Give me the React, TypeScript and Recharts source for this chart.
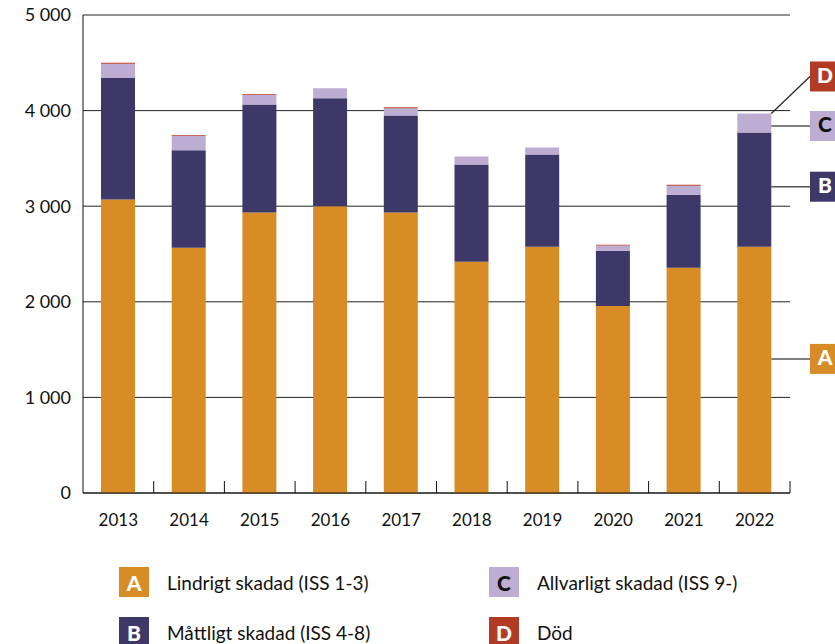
import { BarChart, Bar, XAxis, YAxis, CartesianGrid, LabelList } from "recharts";

// data
const years = ["2013", "2014", "2015", "2016", "2017", "2018", "2019", "2020", "2021", "2022"];
const lindrigt = [3070, 2565, 2935, 3000, 2935, 2420, 2575, 1955, 2355, 2575];
const mattligt = [1270, 1020, 1130, 1130, 1015, 1015, 965, 580, 765, 1195];
const allvarligt = [150, 150, 100, 105, 75, 85, 75, 55, 95, 200];
const dod = [10, 8, 8, 0, 10, 0, 0, 8, 10, 0];
const yTicks = [0, 1000, 2000, 3000, 4000, 5000];

const COLORS = {
  A: "#d78c25",
  B: "#3e3868",
  C: "#bdadd2",
  D: "#b23b26",
};

const FONT = "Lato, 'Open Sans', sans-serif";

const data = years.map((year, i) => ({
  year,
  A: lindrigt[i],
  B: mattligt[i],
  C: allvarligt[i],
  D: dod[i],
}));

const W = 835;
const H = 644;
const MARGIN = { top: 15, right: 45, bottom: 0, left: 0 };
const Y_AXIS_W = 83;
const X_AXIS_H = 151;
const BAND = (W - MARGIN.left - MARGIN.right - Y_AXIS_W) / years.length;
const TICK_MARGIN = 29;
const BOX_X = 810;
const BOX = 30;

function fmt(v: number) {
  return v >= 1000 ? `${Math.floor(v / 1000)} ${String(v % 1000).padStart(3, "0")}` : String(v);
}

function XTick(props: any) {
  const { x, y, payload, index } = props;
  const axisY = y - TICK_MARGIN;
  const left = x - BAND / 2;
  return (
    <g>
      {index > 0 && <line x1={left} x2={left} y1={axisY} y2={axisY - 12} stroke="#111" strokeWidth={1} />}
      {index === years.length - 1 && (
        <line x1={x + BAND / 2} x2={x + BAND / 2} y1={axisY} y2={axisY - 12} stroke="#111" strokeWidth={1} />
      )}
      <text x={x} y={y} textAnchor="middle" dominantBaseline="middle" fontSize={17} fill="#111" fontFamily={FONT}>
        {payload.value}
      </text>
    </g>
  );
}

function LetterBox({ x, y, letter, fill, color }: { x: number; y: number; letter: string; fill: string; color: string }) {
  return (
    <g>
      <rect x={x} y={y - BOX / 2} width={BOX} height={BOX} fill={fill} />
      <text
        x={x + BOX / 2}
        y={y + 1}
        textAnchor="middle"
        dominantBaseline="middle"
        fontSize={21}
        fontWeight={900}
        fill={color}
        fontFamily={FONT}
      >
        {letter}
      </text>
    </g>
  );
}

// leader lines + letter boxes next to the last bar
function makeCallout(key: "A" | "B" | "C", shift: number) {
  return (props: any) => {
    const { x, y, width, height, index } = props;
    if (index !== years.length - 1) return null;
    const right = x + width;
    const cy = y + height / 2 + shift;
    const fill = COLORS[key];
    return (
      <g>
        <line x1={right} x2={BOX_X} y1={cy} y2={cy} stroke="#555" strokeWidth={1.5} />
        <LetterBox x={BOX_X} y={cy} letter={key} fill={fill} color={key === "C" ? "#111" : "#fff"} />
        {key === "C" && (
          <g>
            <line x1={right} x2={BOX_X} y1={y} y2={y - 37} stroke="#222" strokeWidth={1.2} />
            <LetterBox x={BOX_X} y={y - 37} letter="D" fill={COLORS.D} color="#fff" />
          </g>
        )}
      </g>
    );
  };
}

const legendItems = [
  { letter: "A", label: "Lindrigt skadad (ISS 1-3)", fill: COLORS.A, color: "#fff", left: 119, top: 567 },
  { letter: "C", label: "Allvarligt skadad (ISS 9-)", fill: COLORS.C, color: "#111", left: 489, top: 567 },
  { letter: "B", label: "Måttligt skadad (ISS 4-8)", fill: COLORS.B, color: "#fff", left: 119, top: 617 },
  { letter: "D", label: "Död", fill: COLORS.D, color: "#fff", left: 489, top: 617 },
];

export default function App() {
  return (
    <div style={{ position: "absolute", left: 0, top: 0, width: W, height: H, overflow: "hidden", background: "#fff" }}>
      <BarChart width={W} height={H} data={data} margin={MARGIN} barSize={34}>
        <CartesianGrid vertical={false} stroke="#222" strokeWidth={1} />
        <XAxis
          dataKey="year"
          height={X_AXIS_H}
          axisLine={{ stroke: "#111" }}
          tickLine={false}
          tickSize={0}
          tickMargin={TICK_MARGIN}
          tick={<XTick />}
          interval={0}
        />
        <YAxis
          width={Y_AXIS_W}
          domain={[0, 5000]}
          ticks={yTicks}
          axisLine={{ stroke: "#111" }}
          tickLine={false}
          tickSize={0}
          tickMargin={12}
          tickFormatter={fmt}
          tick={{ fontSize: 18, fill: "#111", fontFamily: FONT }}
        />
        <Bar dataKey="A" stackId="s" fill={COLORS.A} isAnimationActive={false}>
          <LabelList content={makeCallout("A", -11)} />
        </Bar>
        <Bar dataKey="B" stackId="s" fill={COLORS.B} isAnimationActive={false}>
          <LabelList content={makeCallout("B", -3)} />
        </Bar>
        <Bar dataKey="C" stackId="s" fill={COLORS.C} isAnimationActive={false}>
          <LabelList content={makeCallout("C", 3)} />
        </Bar>
        <Bar dataKey="D" stackId="s" fill={COLORS.D} isAnimationActive={false} />
      </BarChart>
      {legendItems.map((it) => (
        <div key={it.letter} style={{ position: "absolute", left: it.left, top: it.top, display: "flex", alignItems: "center" }}>
          <div
            style={{
              width: BOX,
              height: BOX,
              background: it.fill,
              color: it.color,
              fontFamily: FONT,
              fontWeight: 900,
              fontSize: 21,
              display: "flex",
              alignItems: "center",
              justifyContent: "center",
            }}
          >
            {it.letter}
          </div>
          <span style={{ marginLeft: 18, fontFamily: FONT, fontSize: 19, color: "#111" }}>{it.label}</span>
        </div>
      ))}
    </div>
  );
}
